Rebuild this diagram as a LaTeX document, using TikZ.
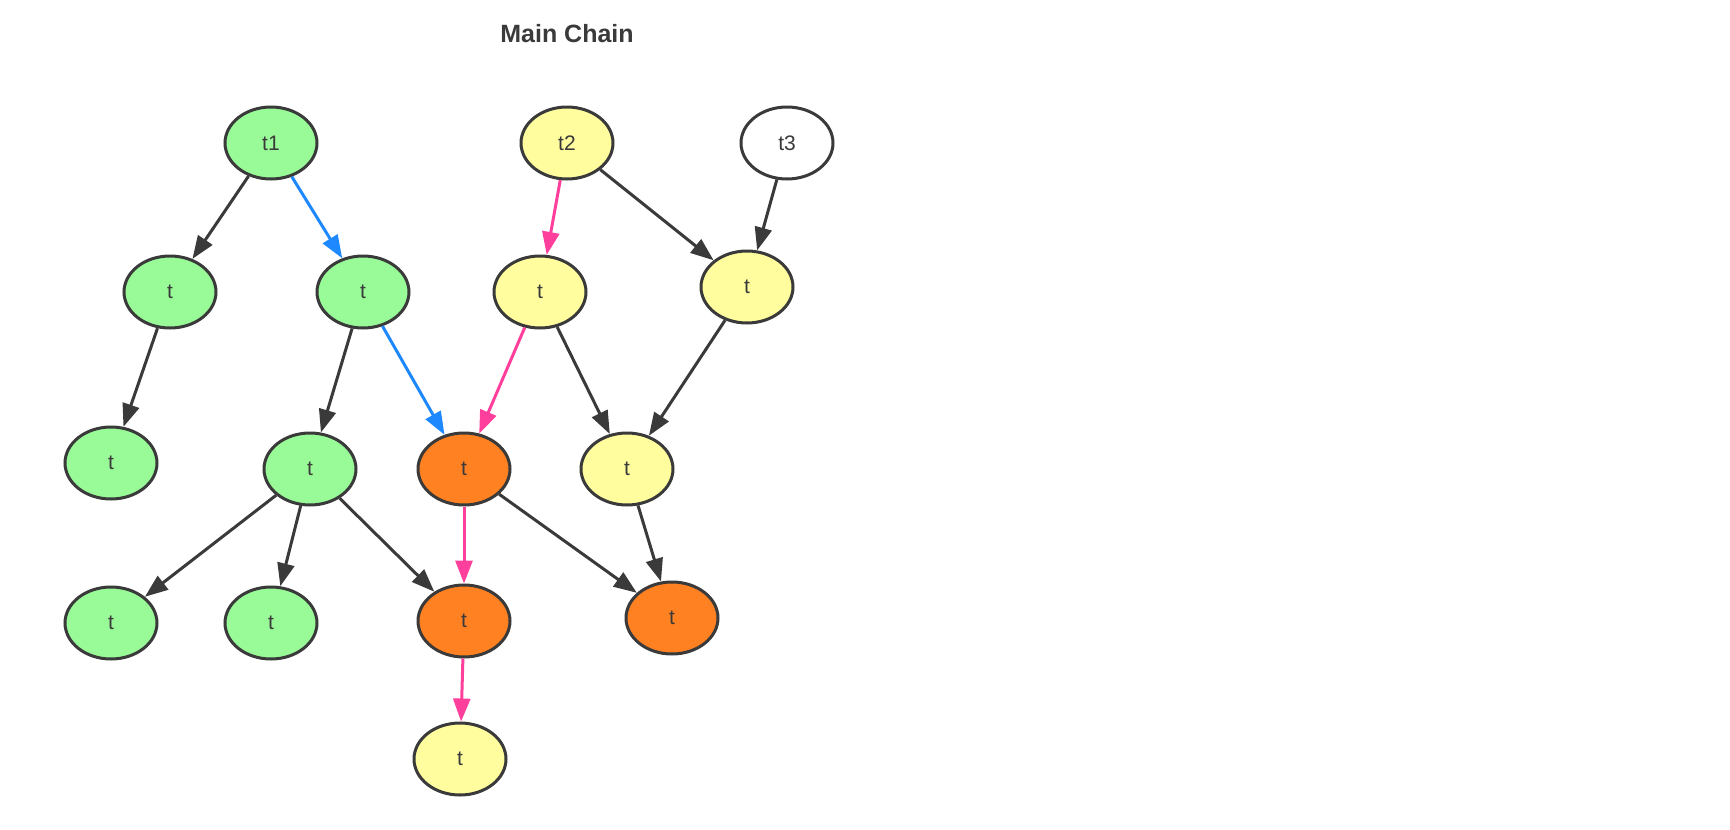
\documentclass[tikz,border=0pt]{standalone}
\usepackage{fontspec}
\setmainfont{Liberation Sans}
\usetikzlibrary{arrows.meta, shapes.geometric}

\definecolor{tgreen}{HTML}{98FB98}
\definecolor{tyellow}{HTML}{FFFD9E}
\definecolor{torange}{HTML}{FF8122}
\definecolor{tedge}{HTML}{3A3A3A}
\definecolor{tblue}{HTML}{1E88FF}
\definecolor{tpink}{HTML}{FF3F9C}

\begin{document}
\begin{tikzpicture}[x=1pt, y=-1pt,
  tx/.style={ellipse, draw=tedge, line width=3pt, minimum width=92pt, minimum height=72pt,
    inner sep=0pt, font=\fontsize{21}{21}\selectfont, text=tedge},
  link/.style={-{Triangle[length=23pt, width=17pt]}, line width=3pt, draw=tedge}]
  \useasboundingbox (0,0) rectangle (1730,830);

  % Draw the title
  \node (title) [text=tedge] at (567,34) {\fontsize{25}{25}\selectfont\bfseries Main Chain};

  % Create the nodes
  \node (t1) [tx, fill=tgreen] at (271,143) {t1};
  \node (t2) [tx, fill=tyellow] at (567,143) {t2};
  \node (t3) [tx, fill=white] at (787,143) {t3};

  \node (greenleft) [tx, fill=tgreen] at (170,292) {t};
  \node (greenright) [tx, fill=tgreen] at (363,292) {t};
  \node (yellowleft) [tx, fill=tyellow] at (540,292) {t};
  \node (yellowright) [tx, fill=tyellow] at (747,287) {t};

  \node (greenleaf) [tx, fill=tgreen] at (111,463) {t};
  \node (greenmid) [tx, fill=tgreen] at (310,469) {t};
  \node (orangemid) [tx, fill=torange] at (464,469) {t};
  \node (yellowmid) [tx, fill=tyellow] at (627,469) {t};

  \node (greenlow) [tx, fill=tgreen] at (111,623) {t};
  \node (greenlowb) [tx, fill=tgreen] at (271,623) {t};
  \node (orangelow) [tx, fill=torange] at (464,621) {t};
  \node (orangeright) [tx, fill=torange] at (672,618) {t};

  \node (yellowtip) [tx, fill=tyellow] at (460,759) {t};

  \draw [link] (t1) -- (greenleft);
  \draw [link, draw=tblue] (t1) -- (greenright);
  \draw [link, draw=tpink] (t2) -- (yellowleft);
  \draw [link] (t2) -- (yellowright);
  \draw [link] (t3) -- (yellowright);

  \draw [link] (greenleft) -- (greenleaf);
  \draw [link] (greenright) -- (greenmid);
  \draw [link, draw=tblue] (greenright) -- (orangemid);
  \draw [link, draw=tpink] (yellowleft) -- (orangemid);
  \draw [link] (yellowleft) -- (yellowmid);
  \draw [link] (yellowright) -- (yellowmid);

  \draw [link] (greenmid) -- (greenlow);
  \draw [link] (greenmid) -- (greenlowb);
  \draw [link] (greenmid) -- (orangelow);
  \draw [link, draw=tpink] (orangemid) -- (orangelow);
  \draw [link] (orangemid) -- (orangeright);
  \draw [link] (yellowmid) -- (orangeright);

  \draw [link, draw=tpink] (orangelow) -- (yellowtip);
\end{tikzpicture}
\end{document}
